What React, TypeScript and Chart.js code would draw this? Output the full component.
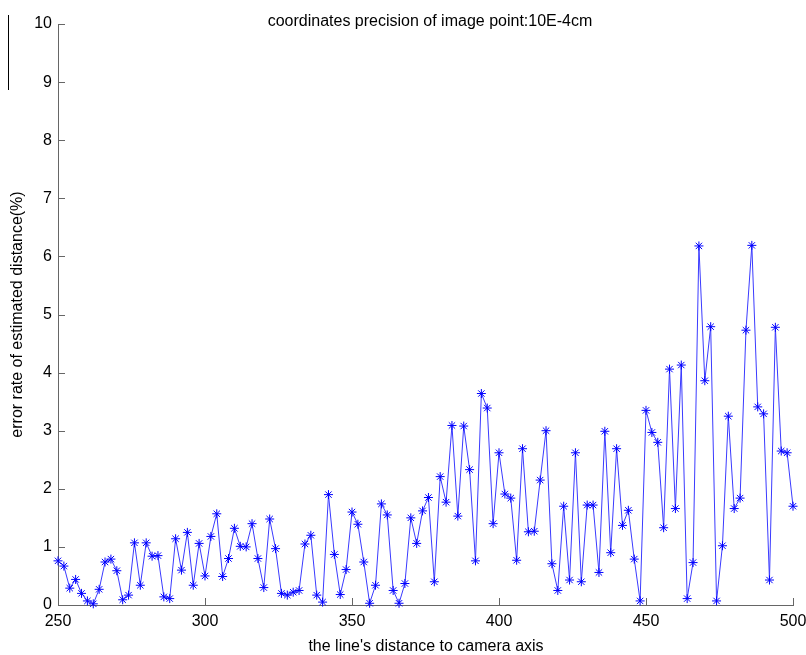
import React, { useEffect, useRef } from "react";
import { Chart, registerables } from "chart.js";
Chart.register(...registerables);

const titleText = "coordinates precision of image point:10E-4cm";
const xTitle = "the line's distance to camera axis";
const yTitle = "error rate of estimated distance(%)";

const distances = [
  250, 252, 254, 256, 258, 260, 262, 264, 266, 268, 270, 272, 274, 276, 278, 280, 282, 284, 286, 288,
  290, 292, 294, 296, 298, 300, 302, 304, 306, 308, 310, 312, 314, 316, 318, 320, 322, 324, 326, 328,
  330, 332, 334, 336, 338, 340, 342, 344, 346, 348, 350, 352, 354, 356, 358, 360, 362, 364, 366, 368,
  370, 372, 374, 376, 378, 380, 382, 384, 386, 388, 390, 392, 394, 396, 398, 400, 402, 404, 406, 408,
  410, 412, 414, 416, 418, 420, 422, 424, 426, 428, 430, 432, 434, 436, 438, 440, 442, 444, 446, 448,
  450, 452, 454, 456, 458, 460, 462, 464, 466, 468, 470, 472, 474, 476, 478, 480, 482, 484, 486, 488,
  490, 492, 494, 496, 498, 500,
];

const errorRates = [
  0.76, 0.67, 0.29, 0.44, 0.2, 0.07, 0.02, 0.27, 0.74, 0.79, 0.59, 0.09, 0.17, 1.07, 0.34, 1.07, 0.84, 0.85, 0.14, 0.11,
  1.14, 0.6, 1.25, 0.34, 1.06, 0.5, 1.18, 1.57, 0.49, 0.8, 1.32, 1.01, 1.0, 1.4, 0.8, 0.3, 1.48, 0.97, 0.2, 0.17,
  0.22, 0.25, 1.05, 1.2, 0.17, 0.05, 1.9, 0.87, 0.18, 0.61, 1.6, 1.39, 0.74, 0.03, 0.34, 1.74, 1.55, 0.25, 0.03, 0.37,
  1.5, 1.06, 1.62, 1.85, 0.4, 2.21, 1.77, 3.09, 1.53, 3.08, 2.33, 0.76, 3.64, 3.39, 1.4, 2.62, 1.91, 1.84, 0.77, 2.69,
  1.26, 1.27, 2.15, 3.0, 0.71, 0.25, 1.7, 0.43, 2.62, 0.4, 1.72, 1.72, 0.56, 2.99, 0.9, 2.69, 1.37, 1.63, 0.79, 0.07,
  3.35, 2.97, 2.8, 1.33, 4.06, 1.66, 4.13, 0.11, 0.73, 6.18, 3.86, 4.79, 0.07, 1.02, 3.25, 1.66, 1.84, 4.73, 6.19, 3.41,
  3.29, 0.43, 4.78, 2.65, 2.62, 1.7,
];

const xTickValues = [250, 300, 350, 400, 450, 500];
const yTickValues = [0, 1, 2, 3, 4, 5, 6, 7, 8, 9, 10];

const FONT = '"Liberation Sans", Arial, sans-serif';
const AXIS = "#666";

const overlay = {
  id: "overlay",
  afterDraw(chart: any) {
    const { ctx, chartArea, scales } = chart;
    ctx.save();
    ctx.strokeStyle = AXIS;
    ctx.lineWidth = 1;
    ctx.beginPath();
    for (const v of xTickValues) {
      const px = Math.round(scales.x.getPixelForValue(v)) + 0.5;
      ctx.moveTo(px, chartArea.bottom);
      ctx.lineTo(px, chartArea.bottom - 7);
    }
    for (const v of yTickValues) {
      const py = Math.round(scales.y.getPixelForValue(v)) + 0.5;
      ctx.moveTo(chartArea.left, py);
      ctx.lineTo(chartArea.left + 7, py);
    }
    ctx.stroke();
    // left edge line
    ctx.strokeStyle = "#000";
    ctx.beginPath();
    ctx.moveTo(8.5, 15);
    ctx.lineTo(8.5, 90);
    ctx.stroke();

    ctx.fillStyle = "#000";
    ctx.font = `16px ${FONT}`;
    ctx.textAlign = "center";
    ctx.textBaseline = "middle";
    ctx.fillText(titleText, 430, 22);
    ctx.fillText(xTitle, 426, 647);
    ctx.translate(18, (chartArea.top + chartArea.bottom) / 2);
    ctx.rotate(-Math.PI / 2);
    ctx.fillText(yTitle, 0, 0);
    ctx.restore();
  },
};

export default function App() {
  const ref = useRef<HTMLCanvasElement>(null);
  useEffect(() => {
    if (!ref.current) return;
    const chart = new Chart(ref.current, {
      type: "line",
      data: {
        datasets: [
          {
            data: distances.map((d, i) => ({ x: d, y: errorRates[i] })),
            borderColor: "#3a3aff",
            borderWidth: 1,
            pointStyle: "star",
            pointRadius: 4.5,
            pointBorderWidth: 1,
            pointBorderColor: "#0000ff",
            pointBackgroundColor: "#0000ff",
            tension: 0,
            clip: false as any,
          },
        ],
      },
      options: {
        responsive: false,
        animation: false,
        layout: { padding: { left: 8, top: 24, right: 13, bottom: 0 } },
        plugins: { legend: { display: false }, tooltip: { enabled: false }, title: { display: false } },
        scales: {
          x: {
            type: "linear",
            min: 250,
            max: 500,
            afterFit: (s: any) => {
              s.height = 50;
              s.paddingLeft = 0;
              s.paddingRight = 0;
            },
            grid: { display: false, drawTicks: false },
            border: { display: true, color: AXIS, width: 1 },
            ticks: { stepSize: 50, padding: 7, color: "#000", font: { family: FONT, size: 16 } },
          },
          y: {
            min: 0,
            max: 10,
            afterFit: (s: any) => {
              s.width = 50;
              s.paddingTop = 0;
              s.paddingBottom = 0;
            },
            grid: { display: false, drawTicks: false },
            border: { display: true, color: AXIS, width: 1 },
            ticks: { stepSize: 1, padding: 6, color: "#000", font: { family: FONT, size: 16 } },
          },
        },
      },
      plugins: [overlay],
    });
    return () => chart.destroy();
  }, []);
  return (
    <div style={{ position: "fixed", left: 0, top: 0, width: 806, height: 655, background: "#fff" }}>
      <canvas ref={ref} width={806} height={655} />
    </div>
  );
}
